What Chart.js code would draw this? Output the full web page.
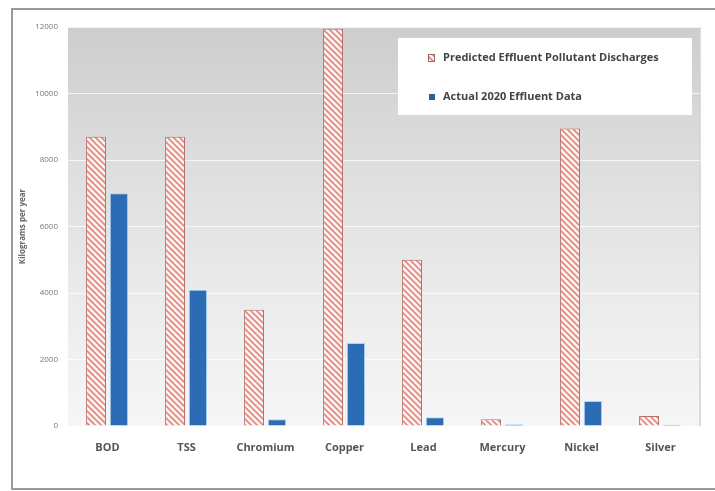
<!DOCTYPE html>
<html>
<head>
<meta charset="utf-8">
<script src="https://cdn.jsdelivr.net/npm/chart.js@4"></script>
<style>
  html, body { margin: 0; padding: 0; background: #ffffff; }
  #wrap { width: 715px; height: 491px; }
</style>
</head>
<body>
<div id="wrap"><canvas id="c" width="715" height="491"></canvas></div>
<script>
// Pollutant categories and annual loads (kg per year)
const categories = ['BOD', 'TSS', 'Chromium', 'Copper', 'Lead', 'Mercury', 'Nickel', 'Silver'];
const predictedDischarges = [8700, 8700, 3500, 11950, 5000, 200, 8950, 300];
const actual2020 = [7000, 4100, 200, 2500, 260, 50, 750, 40];
const yTicks = [0, 2000, 4000, 6000, 8000, 10000, 12000];
const seriesLabels = ['Predicted Effluent Pollutant Discharges', 'Actual 2020 Effluent Data'];

// Diagonal hatch fill for the predicted series
function makeHatch() {
  const size = 6;
  const p = document.createElement('canvas');
  p.width = size; p.height = size;
  const g = p.getContext('2d');
  g.fillStyle = '#fdf3f2';
  g.fillRect(0, 0, size, size);
  g.strokeStyle = '#e5867c';
  g.lineWidth = 1.6;
  g.beginPath();
  g.moveTo(0, 0); g.lineTo(size, size);
  g.moveTo(-size, 0); g.lineTo(size, 2 * size);
  g.moveTo(0, -size); g.lineTo(2 * size, size);
  g.stroke();
  return g.createPattern(p, 'repeat');
}
const hatch = makeHatch();

// Frame, shaded plot area and boxed legend
const decor = {
  id: 'decor',
  beforeDraw(chart) {
    const ctx = chart.ctx;
    const a = chart.chartArea;
    ctx.save();
    ctx.strokeStyle = '#9a9a9a';
    ctx.lineWidth = 2;
    ctx.strokeRect(12, 9, 720, 480);
    const grad = ctx.createLinearGradient(0, a.top, 0, a.bottom);
    grad.addColorStop(0, '#cdcdcd');
    grad.addColorStop(0.35, '#dedede');
    grad.addColorStop(0.7, '#ececec');
    grad.addColorStop(1, '#f6f6f8');
    ctx.fillStyle = grad;
    ctx.fillRect(a.left, a.top, a.right - a.left, a.bottom - a.top);
    ctx.strokeStyle = '#d2d2d2';
    ctx.lineWidth = 1.5;
    ctx.beginPath();
    ctx.moveTo(a.right, a.top);
    ctx.lineTo(a.right, a.bottom);
    ctx.stroke();
    ctx.restore();
  },
  afterDatasetsDraw(chart) {
    const ctx = chart.ctx;
    ctx.save();
    ctx.fillStyle = '#ffffff';
    ctx.fillRect(398, 38, 294, 77);
    ctx.font = 'bold 11px "Open Sans"';
    ctx.textBaseline = 'middle';
    ctx.textAlign = 'left';
    const rows = [58, 97];
    // marker for predicted
    ctx.fillStyle = hatch;
    ctx.fillRect(428, rows[0] - 4, 7, 8);
    ctx.strokeStyle = '#9a6a62';
    ctx.lineWidth = 1;
    ctx.strokeRect(428.5, rows[0] - 3.5, 6, 7);
    // marker for actual
    ctx.fillStyle = '#2c5f94';
    ctx.fillRect(429, rows[1] - 3, 6, 6);
    ctx.fillStyle = '#444444';
    ctx.fillText(seriesLabels[0], 443, rows[0], 221);
    ctx.fillText(seriesLabels[1], 443, rows[1], 152);
    ctx.restore();
  }
};

new Chart(document.getElementById('c'), {
  type: 'bar',
  data: {
    labels: categories,
    datasets: [
      {
        label: seriesLabels[0],
        data: predictedDischarges,
        backgroundColor: hatch,
        borderColor: '#b87068',
        borderWidth: 1,
        categoryPercentage: 0.58,
        barPercentage: 0.87
      },
      {
        label: seriesLabels[1],
        data: actual2020,
        backgroundColor: '#2b6cb5',
        borderColor: '#a9d3f0',
        borderWidth: 1,
        categoryPercentage: 0.58,
        barPercentage: 0.80
      }
    ]
  },
  options: {
    responsive: false,
    animation: false,
    layout: { padding: { left: 12, right: 15, top: 27, bottom: 0 } },
    plugins: {
      legend: { display: false },
      tooltip: { enabled: false }
    },
    scales: {
      x: {
        grid: { display: false, drawTicks: false },
        border: { display: false },
        ticks: {
          padding: 15,
          color: '#555555',
          font: { family: 'Open Sans', size: 11, weight: 'bold' }
        },
        afterFit(s) { s.height = 65; }
      },
      y: {
        min: 0,
        max: 12000,
        afterBuildTicks(s) { s.ticks = yTicks.map(v => ({ value: v })); },
        grid: { color: 'rgba(255,255,255,0.75)', lineWidth: 1, drawTicks: false },
        border: { display: false },
        ticks: {
          padding: 10,
          color: '#777777',
          font: { family: 'Open Sans', size: 8 },
          callback: v => String(v)
        },
        title: {
          display: true,
          text: 'Kilograms per year',
          color: '#666666',
          padding: { top: 6, bottom: 0 },
          font: { family: 'Open Sans', size: 8, weight: 'bold' }
        },
        afterFit(s) { s.width = 56; }
      }
    }
  },
  plugins: [decor]
});
</script>
</body>
</html>
